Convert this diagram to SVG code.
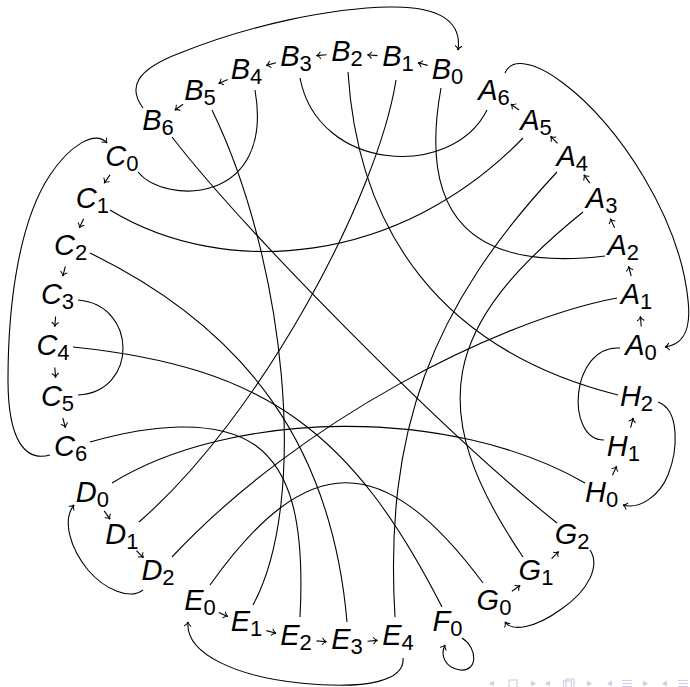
<svg xmlns="http://www.w3.org/2000/svg" width="690" height="687" viewBox="0 0 690 687">
<defs>
<marker id="ah" markerWidth="10" markerHeight="10" refX="0" refY="0" orient="auto" markerUnits="userSpaceOnUse" overflow="visible">
<path d="M-4,-3.2 C-2.8,-1.3 -1.2,-0.3 0,0 C-1.2,0.3 -2.8,1.3 -4,3.2" fill="none" stroke="#000" stroke-width="1" stroke-linecap="round"/>
</marker>
<style>
.e{fill:none;stroke:#000;stroke-width:1.1}
.a{marker-end:url(#ah)}
text{font-family:"Liberation Sans",Arial,sans-serif;font-style:italic;font-size:29px;text-anchor:middle;fill:#000}
.s{font-style:normal;font-size:22px}
.nav{fill:#cfcfea;stroke:none}
.navs{fill:none;stroke:#cfcfea;stroke-width:1.2}
</style>
</defs>
<rect width="690" height="687" fill="#fff"/>
<g id="connectors">
<path class="e" d="M441,88 C418,215 470,272 605,256"/>
<path class="e" d="M348,72 C358,230 440,350 618,395"/>
<path class="e" d="M396,80 C378,195 262,415 139,522"/>
<path class="e" d="M300,78 C318,172 452,180 487,110"/>
<path class="e" d="M523,138 C400,265 225,280 110,210"/>
<path class="e" d="M138,172 C165,205 275,205 255,90"/>
<path class="e" d="M212,110 C285,260 310,500 253,605"/>
<path class="e" d="M172,137 C240,225 440,430 557,523"/>
<path class="e" d="M90,442 C150,425 215,418 255,445 C290,470 305,520 300,617"/>
<path class="e" d="M112,483 C230,410 450,405 585,483"/>
<path class="e" d="M617,298 C500,320 300,420 172,557"/>
<path class="e" d="M557,172 C431,307 384,432 395,617"/>
<path class="e" d="M583,212 C443,325 422,408 523,557"/>
<path class="e" d="M210,585 C307,449 383,449 483,583"/>
<path class="e" d="M620,348 C570,345 565,440 604,440"/>
<path class="e" d="M78,300 C138,305 138,392 78,395"/>
<path class="e" d="M90,253 C248,330 332,448 347,622"/>
<path class="e" d="M73,347 C267,367 353,433 442,607"/>
<path class="e a" d="M143,108 C128,88 135,70 180,53 C250,25 330,8 390,7 C440,6 462,22 458,50"/>
<path class="e a" d="M505,73 C510,60 530,58 563,83 C620,125 680,220 688,300 C692,335 680,345 665,347"/>
<path class="e a" d="M50,455 C25,462 8,440 8,380 C8,300 20,220 50,175 C70,145 95,130 107,143"/>
<path class="e a" d="M143,590 C130,600 105,590 88,570 C70,548 62,520 74,505"/>
<path class="e a" d="M403,658 C405,680 370,690 300,683 C240,677 185,655 188,622"/>
<path class="e a" d="M462,638 C478,648 478,672 460,670 C445,668 440,655 445,645"/>
<path class="e a" d="M590,550 C600,565 590,590 560,610 C535,628 512,632 505,622"/>
<path class="e a" d="M658,402 C680,410 678,450 668,475 C660,495 640,510 623,505"/>
<path class="e a" d="M641.2,326.5 L640.4,316.5"/>
<path class="e a" d="M631.2,276 L628.6,266.4"/>
<path class="e a" d="M614.6,227.7 L610.4,218.7"/>
<path class="e a" d="M589.8,183.1 L584,174.9"/>
<path class="e a" d="M557.6,143.4 L550.6,136.4"/>
<path class="e a" d="M519.1,110 L510.9,104.2"/>
<path class="e a" d="M427.6,65.4 L418,62.8"/>
<path class="e a" d="M377.5,55.6 L367.5,54.8"/>
<path class="e a" d="M326.5,54.8 L316.5,55.6"/>
<path class="e a" d="M276,62.8 L266.4,65.4"/>
<path class="e a" d="M227.7,79.4 L218.7,83.6"/>
<path class="e a" d="M183.1,104.2 L174.9,110"/>
<path class="e a" d="M110,174.9 L104.2,183.1"/>
<path class="e a" d="M83.6,218.7 L79.4,227.7"/>
<path class="e a" d="M65.4,266.4 L62.8,276"/>
<path class="e a" d="M55.6,316.5 L54.8,326.5"/>
<path class="e a" d="M54.8,367.5 L55.6,377.5"/>
<path class="e a" d="M62.8,418 L65.4,427.6"/>
<path class="e a" d="M104.2,510.9 L110,519.1"/>
<path class="e a" d="M136.4,550.6 L143.4,557.6"/>
<path class="e a" d="M218.7,612.4 L227.7,616.6"/>
<path class="e a" d="M266.4,630.6 L276,633.2"/>
<path class="e a" d="M316.5,640.9 L326.5,641.7"/>
<path class="e a" d="M367.5,641.2 L377.5,640.4"/>
<path class="e a" d="M511.9,591.3 L520.1,585.5"/>
<path class="e a" d="M551.6,558.6 L558.6,551.6"/>
<path class="e a" d="M612.4,475.3 L616.6,466.3"/>
<path class="e a" d="M630.6,427.6 L633.2,418"/>
</g>
<g id="A0"><text x="641" y="355">A<tspan class="s" dy="5">0</tspan></text></g>
<g id="A1"><text x="636.5" y="304">A<tspan class="s" dy="5">1</tspan></text></g>
<g id="A2"><text x="623.3" y="254.5">A<tspan class="s" dy="5">2</tspan></text></g>
<g id="A3"><text x="601.6" y="208">A<tspan class="s" dy="5">3</tspan></text></g>
<g id="A4"><text x="572.2" y="166">A<tspan class="s" dy="5">4</tspan></text></g>
<g id="A5"><text x="536" y="129.8">A<tspan class="s" dy="5">5</tspan></text></g>
<g id="A6"><text x="494" y="100.4">A<tspan class="s" dy="5">6</tspan></text></g>
<g id="B0"><text x="447.5" y="78.7">B<tspan class="s" dy="5">0</tspan></text></g>
<g id="B1"><text x="398" y="65.5">B<tspan class="s" dy="5">1</tspan></text></g>
<g id="B2"><text x="347" y="61">B<tspan class="s" dy="5">2</tspan></text></g>
<g id="B3"><text x="296" y="65.5">B<tspan class="s" dy="5">3</tspan></text></g>
<g id="B4"><text x="246.5" y="78.7">B<tspan class="s" dy="5">4</tspan></text></g>
<g id="B5"><text x="200" y="100.4">B<tspan class="s" dy="5">5</tspan></text></g>
<g id="B6"><text x="158" y="129.8">B<tspan class="s" dy="5">6</tspan></text></g>
<g id="C0"><text x="121.8" y="166">C<tspan class="s" dy="5">0</tspan></text></g>
<g id="C1"><text x="92.4" y="208">C<tspan class="s" dy="5">1</tspan></text></g>
<g id="C2"><text x="70.7" y="254.5">C<tspan class="s" dy="5">2</tspan></text></g>
<g id="C3"><text x="57.5" y="304">C<tspan class="s" dy="5">3</tspan></text></g>
<g id="C4"><text x="53" y="355">C<tspan class="s" dy="5">4</tspan></text></g>
<g id="C5"><text x="57.5" y="406">C<tspan class="s" dy="5">5</tspan></text></g>
<g id="C6"><text x="70.7" y="455.5">C<tspan class="s" dy="5">6</tspan></text></g>
<g id="D0"><text x="92.4" y="502">D<tspan class="s" dy="5">0</tspan></text></g>
<g id="D1"><text x="121.8" y="544">D<tspan class="s" dy="5">1</tspan></text></g>
<g id="D2"><text x="158" y="580.2">D<tspan class="s" dy="5">2</tspan></text></g>
<g id="E0"><text x="200" y="609.6">E<tspan class="s" dy="5">0</tspan></text></g>
<g id="E1"><text x="246.5" y="631.3">E<tspan class="s" dy="5">1</tspan></text></g>
<g id="E2"><text x="296" y="644.5">E<tspan class="s" dy="5">2</tspan></text></g>
<g id="E3"><text x="347" y="649">E<tspan class="s" dy="5">3</tspan></text></g>
<g id="E4"><text x="398" y="644.5">E<tspan class="s" dy="5">4</tspan></text></g>
<g id="F0"><text x="447.5" y="631.3">F<tspan class="s" dy="5">0</tspan></text></g>
<g id="G0"><text x="494" y="609.6">G<tspan class="s" dy="5">0</tspan></text></g>
<g id="G1"><text x="536" y="580.2">G<tspan class="s" dy="5">1</tspan></text></g>
<g id="G2"><text x="572.2" y="544">G<tspan class="s" dy="5">2</tspan></text></g>
<g id="H0"><text x="601.6" y="502">H<tspan class="s" dy="5">0</tspan></text></g>
<g id="H1"><text x="623.3" y="455.5">H<tspan class="s" dy="5">1</tspan></text></g>
<g id="H2"><text x="636.5" y="406">H<tspan class="s" dy="5">2</tspan></text></g>
<g id="navigation">
<polygon class="nav" points="489,683.5 494,680.5 494,686.5"/>
<rect class="navs" x="509" y="680" width="8" height="8"/>
<polygon class="nav" points="531,680.5 536,683.5 531,686.5"/>
<polygon class="nav" points="545,683.5 550,680.5 550,686.5"/>
<rect class="navs" x="566" y="679" width="8" height="9"/>
<rect class="navs" x="563.5" y="681" width="8" height="8"/>
<polygon class="nav" points="587,680.5 592,683.5 587,686.5"/>
<polygon class="nav" points="607,683.5 612,680.5 612,686.5"/>
<path class="navs" d="M622,680.5 H632 M622,683.5 H632 M622,686.5 H632"/>
<polygon class="nav" points="643,680.5 648,683.5 643,686.5"/>
<polygon class="nav" points="662,683.5 667,680.5 667,686.5"/>
<path class="navs" d="M678,680.5 H688 M678,683.5 H688 M678,686.5 H688"/>
</g>
</svg>
